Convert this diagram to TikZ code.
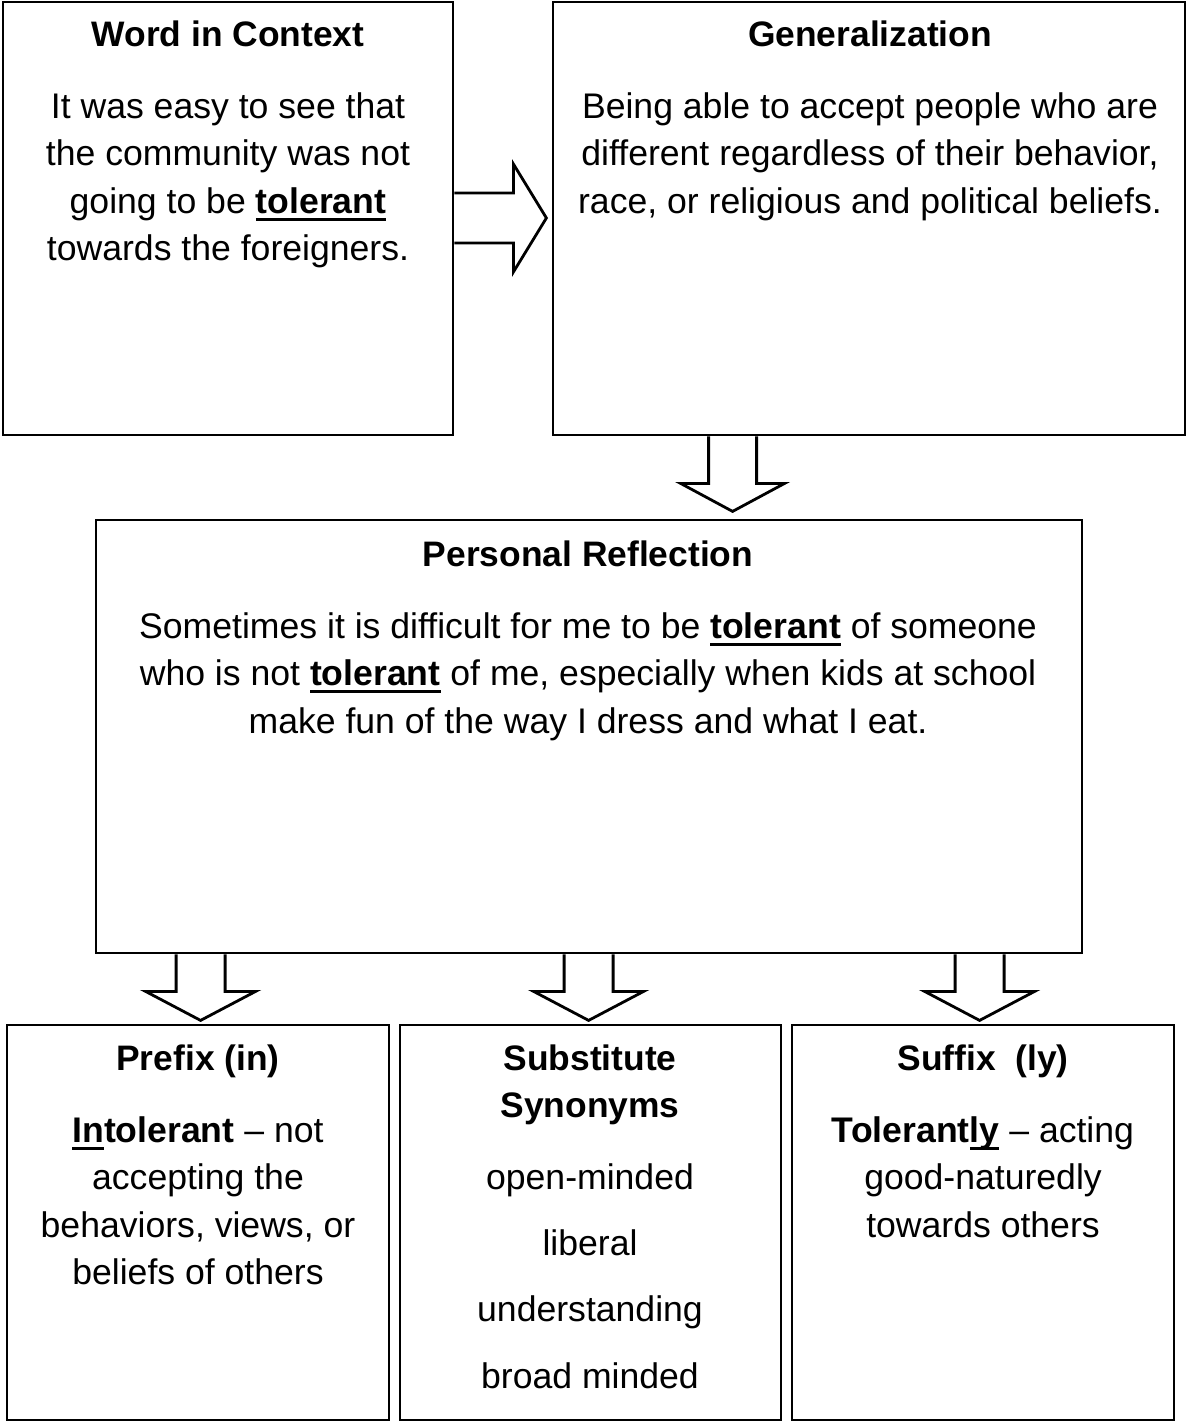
\documentclass[tikz,border=0pt]{standalone}
\usepackage{fontspec}
\setmainfont{Liberation Sans}[Ligatures={TeX,NoCommon}]
\usetikzlibrary{calc}
\newsavebox\ulbox
\newcommand\myul[1]{\sbox\ulbox{#1}\rlap{\rule[-7.5pt]{\wd\ulbox}{3pt}}\usebox\ulbox}
\begin{document}
\begin{tikzpicture}[x=1pt,y=-1pt,
  box/.style={draw, line width=2.8pt, inner sep=0pt},
  txt/.style={anchor=north, inner sep=0pt, align=center, font=\fontsize{35.6}{47.3}\selectfont},
  ttl/.style={anchor=north, inner sep=0pt, align=center, font=\fontsize{35.4}{47}\selectfont\bfseries},
  listtxt/.style={anchor=north, inner sep=0pt, align=center, font=\fontsize{35.6}{66.3}\selectfont},
  blockarrow/.style={draw, line width=2.8pt, line join=miter}]
\useasboundingbox (0,0) rectangle (1187,1422);
% boxes
\node[box, minimum width=450pt, minimum height=433pt] (b1) at (228,218.5) {};
\node[box, minimum width=632pt, minimum height=433pt] (b2) at (869,218.5) {};
\node[box, minimum width=986pt, minimum height=433pt] (b3) at (589,736.5) {};
\node[box, minimum width=382pt, minimum height=395pt] (b4) at (198,1222.5) {};
\node[box, minimum width=381pt, minimum height=395pt] (b5) at (590.5,1222.5) {};
\node[box, minimum width=382pt, minimum height=395pt] (b6) at (983,1222.5) {};
% titles
\node[ttl] (t1) at (228,13.1) {\strut Word in Context};
\node[ttl] (t2) at (870,13.1) {\strut Generalization};
\node[ttl] (t3) at (588,533.1) {\strut Personal Reflection};
\node[ttl] (t4) at (198,1037.1) {\strut Prefix (in)};
\node[ttl] (t5) at (590,1037.1) {\strut Substitute\\Synonyms};
\node[ttl] (t6) at (983,1037.1) {\strut Suffix\ \ (ly)};
% bodies
\node[txt] (x1) at (228,85.1) {\strut It was easy to see that\\the community was not\\going to be \myul{\textbf{tolerant}}\\towards the foreigners.};
\node[txt] (x2) at (870,85.1) {\strut Being able to accept people who are\\different regardless of their behavior,\\race, or religious and political beliefs.};
\node[txt] (x3) at (588,605.1) {\strut Sometimes it is difficult for me to be \myul{\textbf{tolerant}} of someone\\who is not \myul{\textbf{tolerant}} of me, especially when kids at school\\make fun of the way I dress and what I eat.};
\node[txt] (x4) at (198,1109.1) {\strut\myul{\textbf{In}}\textbf{tolerant} – not\\accepting the\\behaviors, views, or\\beliefs of others};
\node[listtxt] (x5) at (590,1142.6) {\strut open-minded\\liberal\\understanding\\broad minded};
\node[txt] (x6) at (983,1109.1) {\strut\textbf{Tolerant}\myul{\textbf{ly}} – acting\\good-naturedly\\towards others};
% block arrows
\coordinate (r1) at ($(b1.east)+(0,-0.5)$);
\draw[blockarrow] ($(r1)+(0,-25)$) -- ++(59,0) -- ++(0,-29) -- ++(33,54) -- ++(-33,54) -- ++(0,-29) -- ++(-59,0);
\coordinate (d1) at ($(b2.south west)+(181,0)$);
\draw[blockarrow] ($(d1)+(-24,0)$) -- ++(0,47) -- ++(-28,0) -- ++(52,28) -- ++(52,-28) -- ++(-28,0) -- ++(0,-47);
\coordinate (d2) at ($(b3.south west)+(106,0)$);
\coordinate (d3) at ($(b3.south west)+(494,0)$);
\coordinate (d4) at ($(b3.south west)+(885,0)$);
\foreach \c in {d2,d3,d4}{
  \draw[blockarrow] ($(\c)+(-24.5,0)$) -- ++(0,37) -- ++(-30.5,0) -- ++(55,29) -- ++(55,-29) -- ++(-30.5,0) -- ++(0,-37);
}
\end{tikzpicture}
\end{document}
